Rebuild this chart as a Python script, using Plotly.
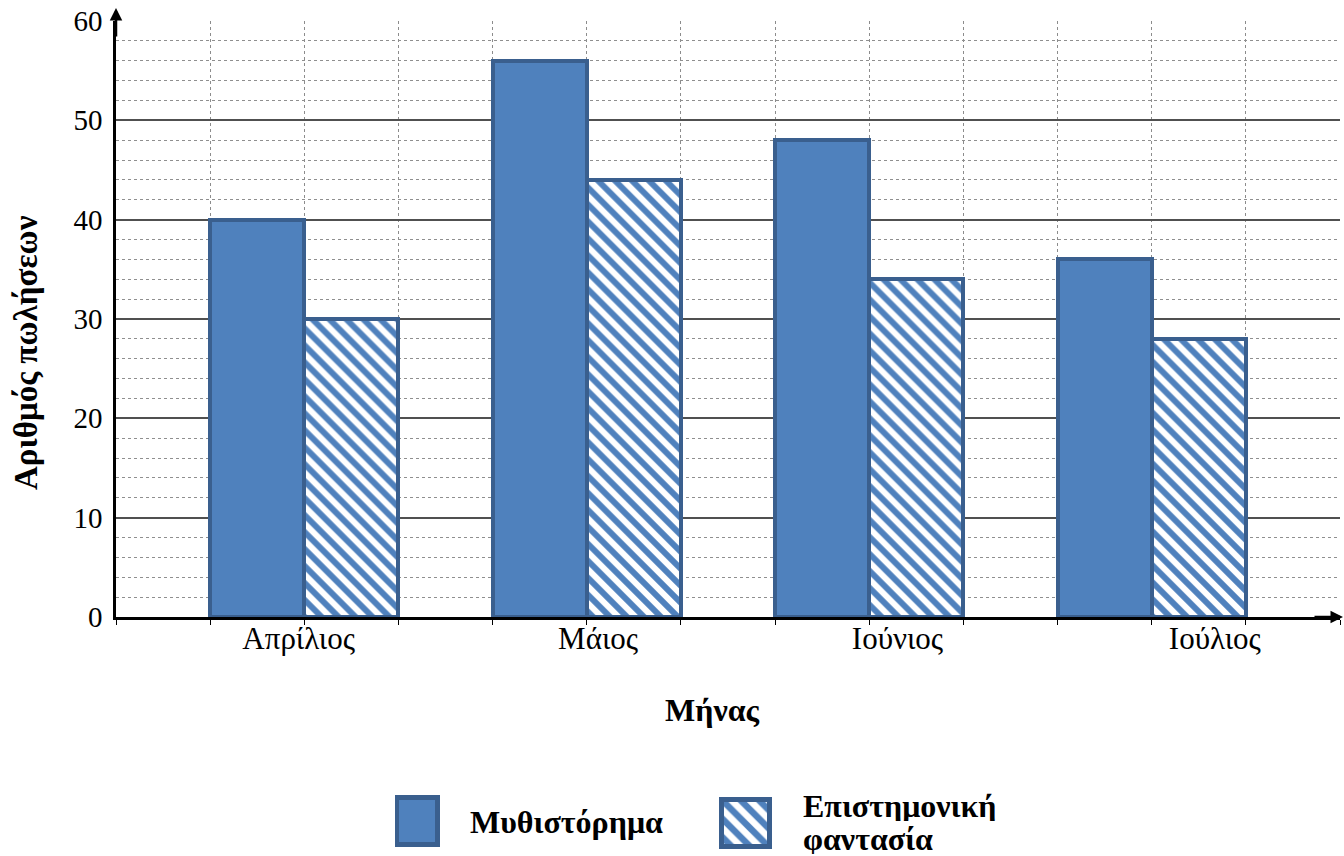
import plotly.graph_objects as go

# Monthly book sales by genre
months = ["Απρίλιος", "Μάιος", "Ιούνιος", "Ιούλιος"]
novel = [40, 56, 48, 36]
scifi = [30, 44, 34, 28]
series_names = ["Μυθιστόρημα", "Επιστημονική<br>φαντασία"]
y_title = "Αριθμός πωλήσεων"
x_title = "Μήνας"

W, H = 1344, 856
FILL = "#4F81BD"
EDGE = "#3A5F8E"
FONT = "Liberation Serif"


def px_x(p):
    return p / W


def px_y(p):
    return 1 - p / H


# every month takes three unit slots: two bars then a gap
slot = 3
novel_x = [1.5 + slot * i for i in range(len(months))]
scifi_x = [2.5 + slot * i for i in range(len(months))]
label_x = [2 + slot * i + d for i, d in enumerate([-0.06, 0.12, 0.30, 0.67])]

hatch = dict(shape="\\", fgcolor=FILL, fgopacity=1, bgcolor="white",
             size=12, solidity=0.5)

fig = go.Figure()

fig.add_bar(
    x=novel_x, y=novel, width=1, name=series_names[0], showlegend=False,
    marker=dict(color=FILL, line=dict(color=EDGE, width=4)),
    xaxis="x", yaxis="y",
)
fig.add_bar(
    x=scifi_x, y=scifi, width=1, name=series_names[1], showlegend=False,
    marker=dict(color="white", line=dict(color=EDGE, width=4), pattern=hatch),
    xaxis="x", yaxis="y",
)

# legend swatches, each in its own small subplot
fig.add_bar(
    x=[0], y=[1], width=1, showlegend=False, hoverinfo="skip",
    marker=dict(color=FILL, line=dict(color=EDGE, width=5)),
    xaxis="x3", yaxis="y3",
)
fig.add_bar(
    x=[0], y=[1], width=1, showlegend=False, hoverinfo="skip",
    marker=dict(color="white", line=dict(color=EDGE, width=5),
                pattern=dict(hatch, size=13)),
    xaxis="x4", yaxis="y4",
)

swatch_axis = dict(visible=False, fixedrange=True, automargin=False)

fig.update_layout(
    width=W, height=H,
    margin=dict(l=0, r=0, t=0, b=0, autoexpand=False),
    paper_bgcolor="white", plot_bgcolor="white",
    font=dict(family=FONT, color="black"),
    bargap=0,
    xaxis=dict(
        domain=[px_x(116), px_x(1340)], range=[0, 13], anchor="y",
        automargin=False,
        tickmode="array", tickvals=label_x, ticktext=months,
        tickfont=dict(size=31), ticks="", ticklabelstandoff=-8,
        showgrid=False, zeroline=False,
        showline=True, linecolor="black", linewidth=2.5,
        minor=dict(tickmode="linear", tick0=0, dtick=1, showgrid=True,
                   griddash="dot", gridcolor="#8c8c8c", gridwidth=1,
                   ticks="outside", ticklen=5, tickcolor="black"),
    ),
    yaxis=dict(
        domain=[px_y(617), px_y(21)], range=[0, 60], anchor="x",
        automargin=False,
        tickmode="linear", tick0=0, dtick=10,
        tickfont=dict(size=29), ticks="", ticklabelstandoff=5,
        showgrid=True, gridcolor="#505050", gridwidth=1.5, zeroline=False,
        showline=True, linecolor="black", linewidth=2.5,
        minor=dict(dtick=2, showgrid=True, griddash="dot",
                   gridcolor="#8f8f8f", gridwidth=1),
    ),
    xaxis3=dict(domain=[px_x(395), px_x(440)], range=[-0.56, 0.56],
                anchor="y3", **swatch_axis),
    yaxis3=dict(domain=[px_y(848), px_y(795)], range=[-0.06, 1.06],
                anchor="x3", **swatch_axis),
    xaxis4=dict(domain=[px_x(719), px_x(773)], range=[-0.56, 0.56],
                anchor="y4", **swatch_axis),
    yaxis4=dict(domain=[px_y(850), px_y(797)], range=[-0.06, 1.06],
                anchor="x4", **swatch_axis),
)

annotations = [
    # axis titles
    dict(text=f"<b>{x_title}</b>", x=px_x(713), y=px_y(710),
         xref="paper", yref="paper", showarrow=False,
         font=dict(size=32), xanchor="center", yanchor="middle"),
    dict(text=f"<b>{y_title}</b>", x=px_x(26), y=px_y(353),
         xref="paper", yref="paper", showarrow=False, textangle=-90,
         font=dict(size=33), xanchor="center", yanchor="middle"),
    # legend labels
    dict(text=f"<b>{series_names[0]}</b>", x=px_x(468), y=px_y(822),
         xref="paper", yref="paper", showarrow=False,
         font=dict(size=32), xanchor="left", yanchor="middle"),
    # arrow tips on both axes
    dict(text="", x=px_x(116), y=px_y(8), xref="paper", yref="paper",
         showarrow=True, ax=0, ay=30, arrowhead=2, arrowsize=1,
         arrowwidth=2.5, arrowcolor="black", standoff=0),
    dict(text="", x=px_x(1343), y=px_y(617), xref="paper", yref="paper",
         showarrow=True, ax=-30, ay=0, arrowhead=2, arrowsize=1,
         arrowwidth=2.5, arrowcolor="black", standoff=0),
]
# the two-line label is set line by line for tighter leading
for k, line in enumerate(series_names[1].split("<br>")):
    annotations.append(
        dict(text=f"<b>{line}</b>", x=px_x(801), y=px_y(805 + 33 * k),
             xref="paper", yref="paper", showarrow=False, height=31,
             font=dict(size=32), xanchor="left", yanchor="middle"))

fig.update_layout(annotations=annotations)

fig.write_html("out.html")
